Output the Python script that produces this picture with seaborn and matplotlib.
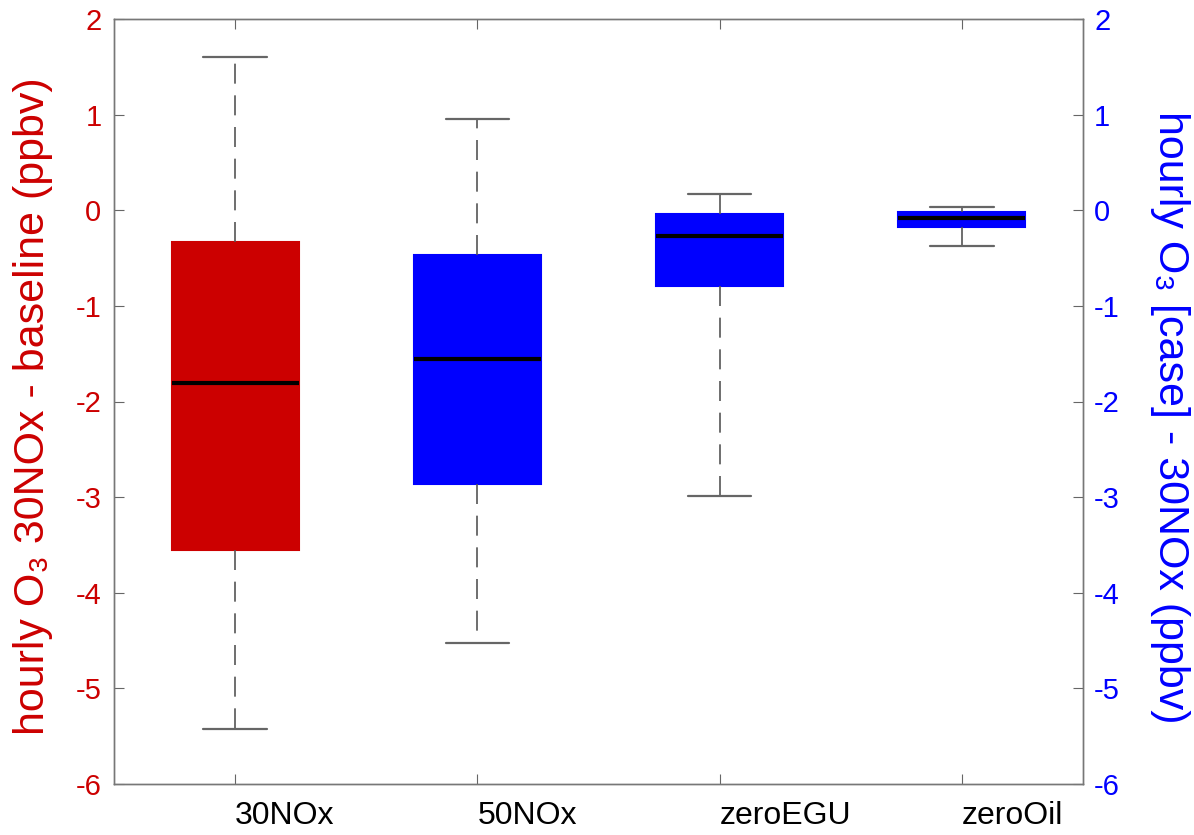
import matplotlib
matplotlib.use("Agg")
import matplotlib.pyplot as plt
import seaborn as sns
import pandas as pd

# ---- data ----
cases = ["30NOx", "50NOx", "zeroEGU", "zeroOil"]
whisker_low = [-5.42, -4.53, -2.99, -0.37]
q1 = [-3.55, -2.86, -0.79, -0.18]
median = [-1.81, -1.56, -0.27, -0.08]
q3 = [-0.335, -0.47, -0.04, -0.02]
whisker_high = [1.60, 0.955, 0.17, 0.03]
yticks = [-6, -5, -4, -3, -2, -1, 0, 1, 2]

RED = "#CC0000"
BLUE = "#0000FF"
box_colors = {"30NOx": RED, "50NOx": BLUE, "zeroEGU": BLUE, "zeroOil": BLUE}

rows = []
for i, c in enumerate(cases):
    for v in (whisker_low[i], q1[i], median[i], q3[i], whisker_high[i]):
        rows.append({"case": c, "value": v})
df = pd.DataFrame(rows)

sns.set_style("white")
plt.rcParams["font.family"] = ["Liberation Sans", "DejaVu Sans"]
plt.rcParams["axes.unicode_minus"] = False

fig = plt.figure(figsize=(11.94, 8.35), dpi=100)
ax = fig.add_axes([114 / 1194, 51 / 835, 969 / 1194, 765 / 835])

sns.boxplot(
    data=df, x="case", y="value", hue="case", palette=box_colors,
    order=cases, hue_order=cases, whis=(0, 100), width=0.525,
    saturation=1, linewidth=1.5, linecolor="#555555", fliersize=0,
    legend=False, ax=ax,
    medianprops=dict(color="black", linewidth=3),
    whiskerprops=dict(color="#555555", linewidth=1.2, linestyle=(0, (12, 7))),
    capprops=dict(color="#666666", linewidth=1.6),
)
for p in ax.patches:
    p.set_edgecolor(p.get_facecolor())
    p.set_linewidth(1.5)

ax.set_xlim(-0.5, 3.5)
ax.set_ylim(-6, 2)
ax.set_yticks(yticks)
ax.set_yticklabels([str(t) for t in yticks])
ax.set_xlabel("")
ax.set_ylabel("")
ax.set_xticks(range(len(cases)))
ax.set_xticklabels(cases, ha="left", fontsize=23, color="black")

for s in ax.spines.values():
    s.set_visible(True)
    s.set_color("#777777")
    s.set_linewidth(1.0)

ax.tick_params(axis="x", direction="in", length=7, color="#666666",
               top=True, bottom=True, pad=12)
ax.tick_params(axis="y", direction="in", length=7, color="#666666",
               labelsize=21, labelcolor=RED, pad=9, left=True, right=False)

ax2 = ax.twinx()
ax2.set_ylim(-6, 2)
ax2.set_yticks(yticks)
ax2.set_yticklabels([str(t) for t in yticks])
ax2.tick_params(axis="y", direction="in", length=7, color="#666666",
                labelsize=21, labelcolor=BLUE, pad=8)
for s in ax2.spines.values():
    s.set_color("#777777")
    s.set_linewidth(1.0)
ax2.grid(False)
ax.grid(False)

fig.text(33 / 1194, 1 - 406 / 835, "hourly O\u2083 30NOx - baseline (ppbv)",
         rotation=90, ha="center", va="center", fontsize=31, color=RED)
fig.text(1170 / 1194, 1 - 417 / 835, "hourly O\u2083 [case] - 30NOx (ppbv)",
         rotation=270, ha="center", va="center", fontsize=31, color=BLUE)

fig.savefig("out.png", dpi=100)
